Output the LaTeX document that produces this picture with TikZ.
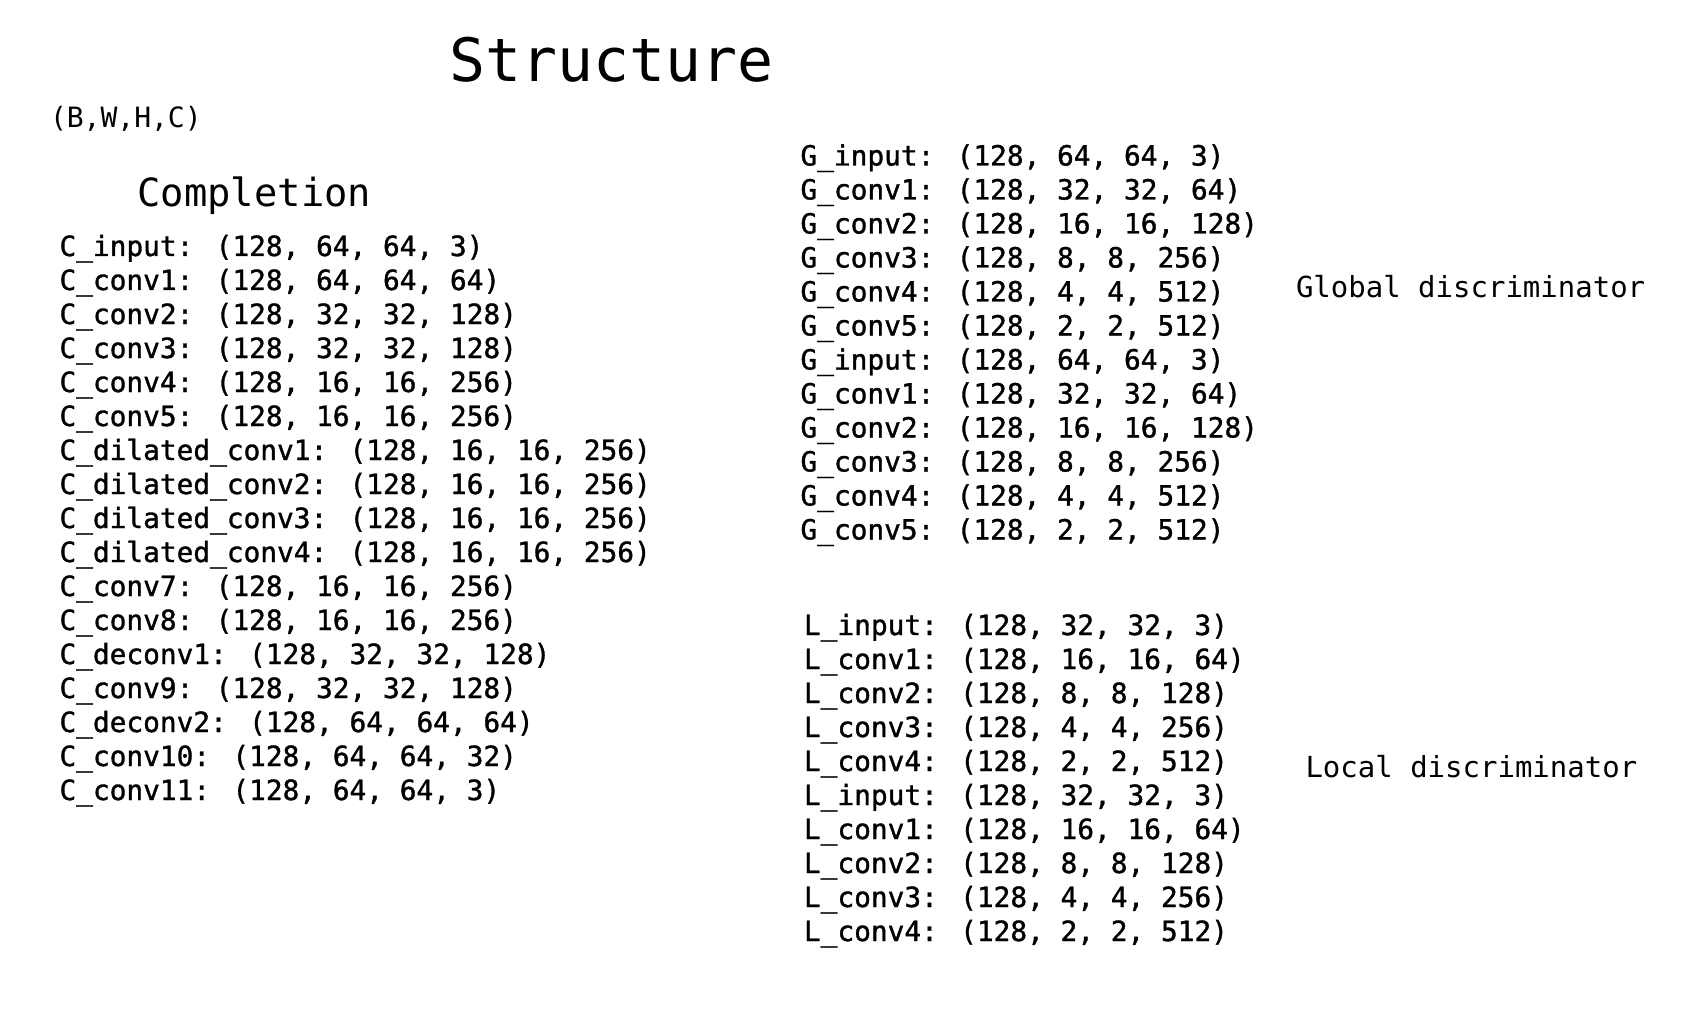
\documentclass[tikz,border=0pt]{standalone}
\usepackage{fontspec}
\newfontfamily\monofont{DejaVu Sans Mono}
\newfontfamily\monoheavy[FakeBold=1.2]{DejaVu Sans Mono}
\begin{document}
\begin{tikzpicture}[x=1pt,y=-1pt,
  txt/.style={inner sep=0pt, outer sep=0pt, anchor=base west, text=black},
  lst/.style={txt, font=\monoheavy\fontsize{27.8}{34}\selectfont},
  lab/.style={txt, font=\monofont\fontsize{29}{34}\selectfont},
  ttl/.style={txt, font=\monofont\fontsize{59.8}{70}\selectfont},
  sub/.style={txt, font=\monofont\fontsize{38.8}{46}\selectfont},
  dimlab/.style={txt, font=\monofont\fontsize{28}{34}\selectfont}]
\useasboundingbox[fill=white] (0,0) rectangle (1700,1016);
\node[ttl] (title) at (449.6,82) {Structure};
\node[dimlab] (dims) at (50,128) {(B,W,H,C)};
\node[sub] (comp) at (137.5,206.5) {Completion};
\foreach \t [count=\i] in {
  {C\_input: (128, 64, 64, 3)},
  {C\_conv1: (128, 64, 64, 64)},
  {C\_conv2: (128, 32, 32, 128)},
  {C\_conv3: (128, 32, 32, 128)},
  {C\_conv4: (128, 16, 16, 256)},
  {C\_conv5: (128, 16, 16, 256)},
  {C\_dilated\_conv1: (128, 16, 16, 256)},
  {C\_dilated\_conv2: (128, 16, 16, 256)},
  {C\_dilated\_conv3: (128, 16, 16, 256)},
  {C\_dilated\_conv4: (128, 16, 16, 256)},
  {C\_conv7: (128, 16, 16, 256)},
  {C\_conv8: (128, 16, 16, 256)},
  {C\_deconv1: (128, 32, 32, 128)},
  {C\_conv9: (128, 32, 32, 128)},
  {C\_deconv2: (128, 64, 64, 64)},
  {C\_conv10: (128, 64, 64, 32)},
  {C\_conv11: (128, 64, 64, 3)}}
  \node[lst] (c\i) at ({59.5},{256+34*(\i-1)}) {\t};
\foreach \t [count=\i] in {
  {G\_input: (128, 64, 64, 3)},
  {G\_conv1: (128, 32, 32, 64)},
  {G\_conv2: (128, 16, 16, 128)},
  {G\_conv3: (128, 8, 8, 256)},
  {G\_conv4: (128, 4, 4, 512)},
  {G\_conv5: (128, 2, 2, 512)},
  {G\_input: (128, 64, 64, 3)},
  {G\_conv1: (128, 32, 32, 64)},
  {G\_conv2: (128, 16, 16, 128)},
  {G\_conv3: (128, 8, 8, 256)},
  {G\_conv4: (128, 4, 4, 512)},
  {G\_conv5: (128, 2, 2, 512)}}
  \node[lst] (g\i) at ({800.5},{165.5+34*(\i-1)}) {\t};
\foreach \t [count=\i] in {
  {L\_input: (128, 32, 32, 3)},
  {L\_conv1: (128, 16, 16, 64)},
  {L\_conv2: (128, 8, 8, 128)},
  {L\_conv3: (128, 4, 4, 256)},
  {L\_conv4: (128, 2, 2, 512)},
  {L\_input: (128, 32, 32, 3)},
  {L\_conv1: (128, 16, 16, 64)},
  {L\_conv2: (128, 8, 8, 128)},
  {L\_conv3: (128, 4, 4, 256)},
  {L\_conv4: (128, 2, 2, 512)}}
  \node[lst] (l\i) at ({804},{635+34*(\i-1)}) {\t};
\node[lab] (glab) at (1296,298) {Global discriminator};
\node[lab] (llab) at (1305.5,777) {Local discriminator};
\end{tikzpicture}
\end{document}
